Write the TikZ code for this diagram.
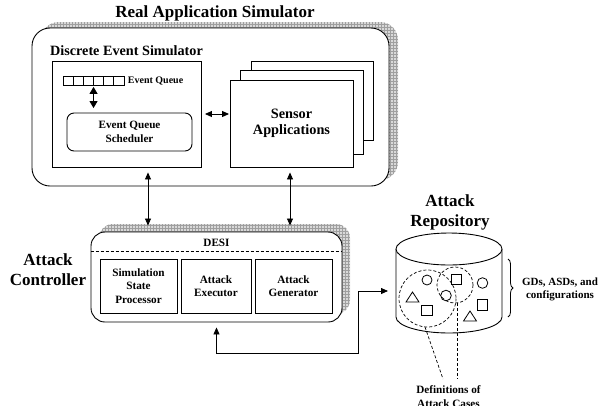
\documentclass[tikz,border=0pt]{standalone}
\usepackage{fontspec}
\setmainfont{Liberation Serif}
\usetikzlibrary{patterns,arrows.meta,decorations.pathreplacing,calc}
\begin{document}
\begin{tikzpicture}[x=1pt,y=-1pt,line width=0.9pt,
  box/.style={draw,fill=white,inner sep=0pt,align=center},
  shadowfill/.style={preaction={fill=gray!30},pattern=grid,pattern color=gray!75},
  big/.style={font=\fontsize{17}{20}\selectfont\bfseries,align=center},
  mid/.style={font=\fontsize{14.2}{16}\selectfont\bfseries,align=center},
  sml/.style={font=\fontsize{11.2}{13.4}\selectfont\bfseries,align=center},
  tiny/.style={font=\fontsize{10}{12}\selectfont\bfseries,align=center},
  cell/.style={draw,fill=white,inner sep=0pt,minimum width=10.17pt,minimum height=9pt,line width=0.8pt},
  dbl/.style={{Triangle[length=7pt,width=6pt]}-{Triangle[length=7pt,width=6pt]}},
  dblbig/.style={{Triangle[length=7pt,width=8pt]}-{Triangle[length=7pt,width=8pt]}},
  dsh/.style={dashed,dash pattern=on 3pt off 2pt,line width=0.7pt},
  thin/.style={line width=0.8pt}]
\useasboundingbox (0,0) rectangle (599,405);

% Real Application Simulator
\path[shadowfill,rounded corners=18pt] (41,22) rectangle (398,180);
\node[box,rounded corners=18pt,minimum width=357pt,minimum height=158pt] (ras) at (210.5,107) {};
\node[big] (rastitle) at (215,13) {Real Application Simulator};
\node[mid] (destitle) at (126.5,51) {Discrete Event Simulator};

% Discrete event simulator
\node[box,minimum width=149pt,minimum height=106pt] (des) at (126.5,114) {};
\foreach \i in {0,...,5} {
  \node[cell] (q\i) at ({68.1+10.17*\i},80.5) {};
}
\node[tiny,anchor=west,inner sep=0pt] (eqlabel) at (127.5,80.5) {Event Queue};
\node[box,rounded corners=7pt,minimum width=125pt,minimum height=38pt,sml] (eqs) at (129.5,132) {Event Queue\\Scheduler};
\coordinate (qa) at ($(q2.south)!0.5!(q3.south)$);
\draw[dblbig,shorten <=1.5pt,shorten >=4.5pt] (qa) -- (qa |- eqs.north);

% Sensor applications stack
\node[box,minimum width=122pt,minimum height=79pt] (s3) at (312,100.5) {};
\node[box,minimum width=123pt,minimum height=84pt] (s2) at (301.5,112) {};
\node[box,minimum width=123pt,minimum height=87pt,font=\fontsize{14.3}{16}\selectfont\bfseries] (s1) at (291.5,123.5) {Sensor\\Applications};
\draw[dbl,shorten <=3.5pt,shorten >=0.5pt] (des.east) -- (des.east -| s1.west);

% Attack controller
\path[shadowfill,rounded corners=14pt] (99,224) rectangle (350,314);
\node[box,rounded corners=14pt,minimum width=251pt,minimum height=90pt] (desi) at (216.5,277) {};
\coordinate (dy) at (0,251);
\draw[dsh,line width=0.8pt] (desi.west |- dy) -- (desi.east |- dy);
\node[sml] (desilabel) at (216.5,243) {DESI};
\node[box,sml,minimum width=77pt,minimum height=54pt] (ssp) at (138.5,286) {Simulation\\State\\Processor};
\node[box,sml,minimum width=70pt,minimum height=54pt] (aex) at (216,286) {Attack\\Executor};
\node[box,sml,minimum width=77pt,minimum height=54pt] (agen) at (293.5,286) {Attack\\Generator};
\node[big] (actitle) at (48,270) {Attack\\Controller};

% vertical connectors
\coordinate (xa) at (148,0);
\coordinate (xb) at (290,0);
\draw[dbl,thin,shorten <=5pt,shorten >=6pt] (xa |- des.south) -- (xa |- desi.north);
\draw[dbl,thin,shorten <=5pt,shorten >=6pt] (xb |- s1.south) -- (xb |- desi.north);

% Attack repository (cylinder)
\draw[box] (396,249) -- (396,317) arc[start angle=180,end angle=0,x radius=53,y radius=16] -- (502,249);
\draw[fill=white] (449,249) ellipse [x radius=53, y radius=16];
\coordinate (repoW) at (396,291);
\node[big] (reptitle) at (450,212) {Attack\\Repository};

% items
\draw[thin] (427,280) circle [radius=5];
\draw[thin] (482.5,283) circle [radius=5.3];
\draw[thin] (446,295.5) circle [radius=5.3];
\draw[thin] (451.2,274.2) rectangle (461.8,284.8);
\draw[thin] (421.8,305.3) rectangle (432.2,315.7);
\draw[thin] (477.3,299.8) rectangle (487.7,310.2);
\draw[thin] (406,302) -- (419,302) -- (412.5,292) -- cycle;
\draw[thin] (463.5,321) -- (476.5,321) -- (470,311) -- cycle;
\draw[dsh] (427.5,298.5) circle [radius=28.5];
\draw[dsh] (455,285) circle [radius=18];

% definitions
\node[sml] (defs) at (448.5,396.5) {Definitions of\\Attack Cases};
\draw[dsh] (425,327) -- (443,379);
\draw[dsh] (457,303) -- (457,379);

% brace
\draw[thin,decorate,decoration={brace,amplitude=5pt}] (508,259) -- (508,317);
\node[font=\fontsize{11}{13}\selectfont\bfseries,align=center] (gds) at (560,289.5) {GDs, ASDs, and\\configurations};

% loop connector
\coordinate (bend) at (358,353);
\draw[dbl,thin,shorten <=5pt,shorten >=8pt] (desi.south) |- (bend) |- (repoW);
\end{tikzpicture}
\end{document}
